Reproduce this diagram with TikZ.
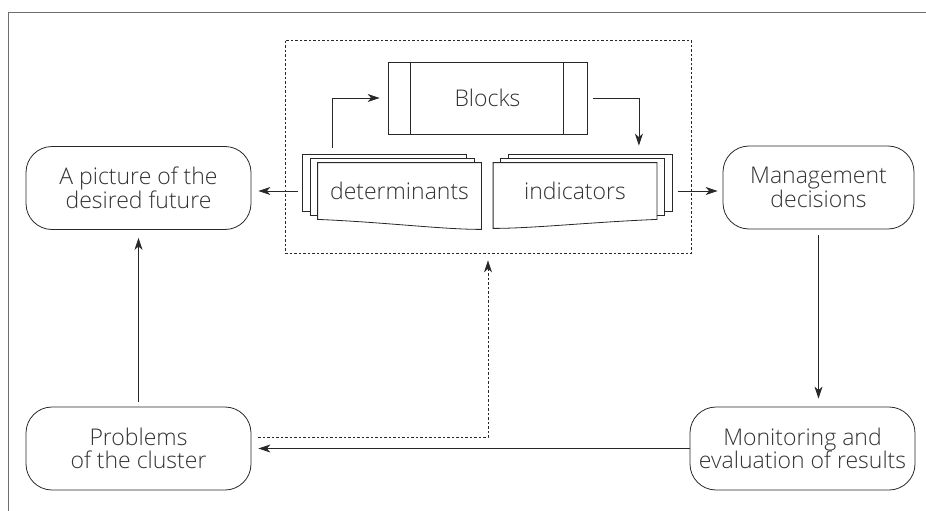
\documentclass[tikz,border=0pt]{standalone}
\usepackage{fontspec}
\setmainfont{Open Sans Light}
\usetikzlibrary{positioning, arrows.meta, calc, backgrounds}
\definecolor{lnblack}{RGB}{40, 40, 40}
\definecolor{txgray}{RGB}{50, 50, 50}
\definecolor{frgray}{RGB}{110, 110, 110}
\tikzset{
    basenode/.style={draw=lnblack, line width=0.8pt, align=center, text=txgray, inner sep=0pt, font=\fontsize{23}{23.5}\selectfont},
    roundnode/.style={basenode, rounded corners=26pt, minimum width=225pt, minimum height=83pt},
    blocknode/.style={basenode, minimum width=199pt, minimum height=72pt},
    docnode/.style={basenode, draw=none, minimum width=163pt, minimum height=56pt},
    groupdash/.style={dash pattern=on 2.5pt off 2pt},
    groupbox/.style={draw=lnblack, line width=0.7pt, groupdash, minimum width=406pt, minimum height=213pt},
    sheet/.style={draw=lnblack, line width=0.8pt, fill=white},
    arr/.style={draw=lnblack, line width=0.8pt, -{Stealth[length=12pt, width=8pt, inset=3.5pt]}}
}
\begin{document}
\begin{tikzpicture}[x=1pt, y=-1pt]
    \useasboundingbox (0,0) rectangle (926,511);
    % frame, only top and left edges show
    \draw[frgray, line width=0.9pt] (8,511) -- (8,12) -- (926,12);

    \node[groupbox] (grp) at (488,146.5) {};
    \node[roundnode] (pic) at (138.5,188) {A picture of the\\desired future};
    \node[roundnode, minimum width=191pt] (mgmt) at (818.5,187.5) {Management\\decisions};
    \node[roundnode] (prob) at (138.5,448.5) {Problems\\of the cluster};
    \node[roundnode] (mon) at (802.5,448.5) {Monitoring and\\evaluation of results};

    % blocks (predefined process)
    \node[blocknode] (blk) at (487.5,98) {Blocks};
    \draw[lnblack, line width=0.8pt]
        ([xshift=23pt]blk.north west) -- ([xshift=23pt]blk.south west)
        ([xshift=-24pt]blk.north east) -- ([xshift=-24pt]blk.south east);

    % stacked documents
    \node[docnode] (det) at (399.5,191) {determinants};
    \node[docnode] (ind) at (575,191) {indicators};
    \begin{scope}[on background layer]
        \foreach \s in {2,1} {
            \draw[sheet] ([xshift=-7.5pt*\s, yshift=4pt*\s]det.north west)
                rectangle ([xshift=-7.5pt*\s, yshift=4pt*\s]det.south east);
            \draw[sheet] ([xshift=7.5pt*\s, yshift=4pt*\s]ind.north west)
                rectangle ([xshift=7.5pt*\s, yshift=4pt*\s]ind.south east);
        }
        \draw[sheet] (det.north west) -- (det.north east) -- ($(det.south east)+(0,10)$)
            .. controls ($(det.south east)+(-40,10)$) and ($(det.south west)+(70,3)$) .. (det.south west) -- cycle;
        \draw[sheet] (ind.north west) -- (ind.north east) -- (ind.south east)
            .. controls ($(ind.south east)+(-70,3)$) and ($(ind.south west)+(40,9)$) .. ($(ind.south west)+(0,9)$) -- cycle;
    \end{scope}

    % connectors
    \draw[arr] ($(det.north west)+(15,-15)$) |- ([xshift=-8pt]blk.west);
    \draw[arr] ([xshift=6pt]blk.east) -| ($(ind.north east)+(-18,-17)$);
    \draw[arr, shorten >=7pt] ([xshift=-20pt]det.west) -- (det.west -| pic.east);
    \draw[arr, shorten >=5pt] ([xshift=21pt]ind.east) -- (ind.east -| mgmt.west);
    \draw[arr, shorten <=6pt, shorten >=8pt] (mgmt.south) -- (mgmt.south |- mon.north);
    \draw[arr, shorten >=7pt] (mon.west) -- (prob.east);
    \draw[arr, groupdash, shorten >=7pt] ($(prob.east)+(7,-11)$) -| (grp.south);
    \draw[arr, shorten <=5pt, shorten >=8pt] (prob.north) -- (pic.south);
\end{tikzpicture}
\end{document}
